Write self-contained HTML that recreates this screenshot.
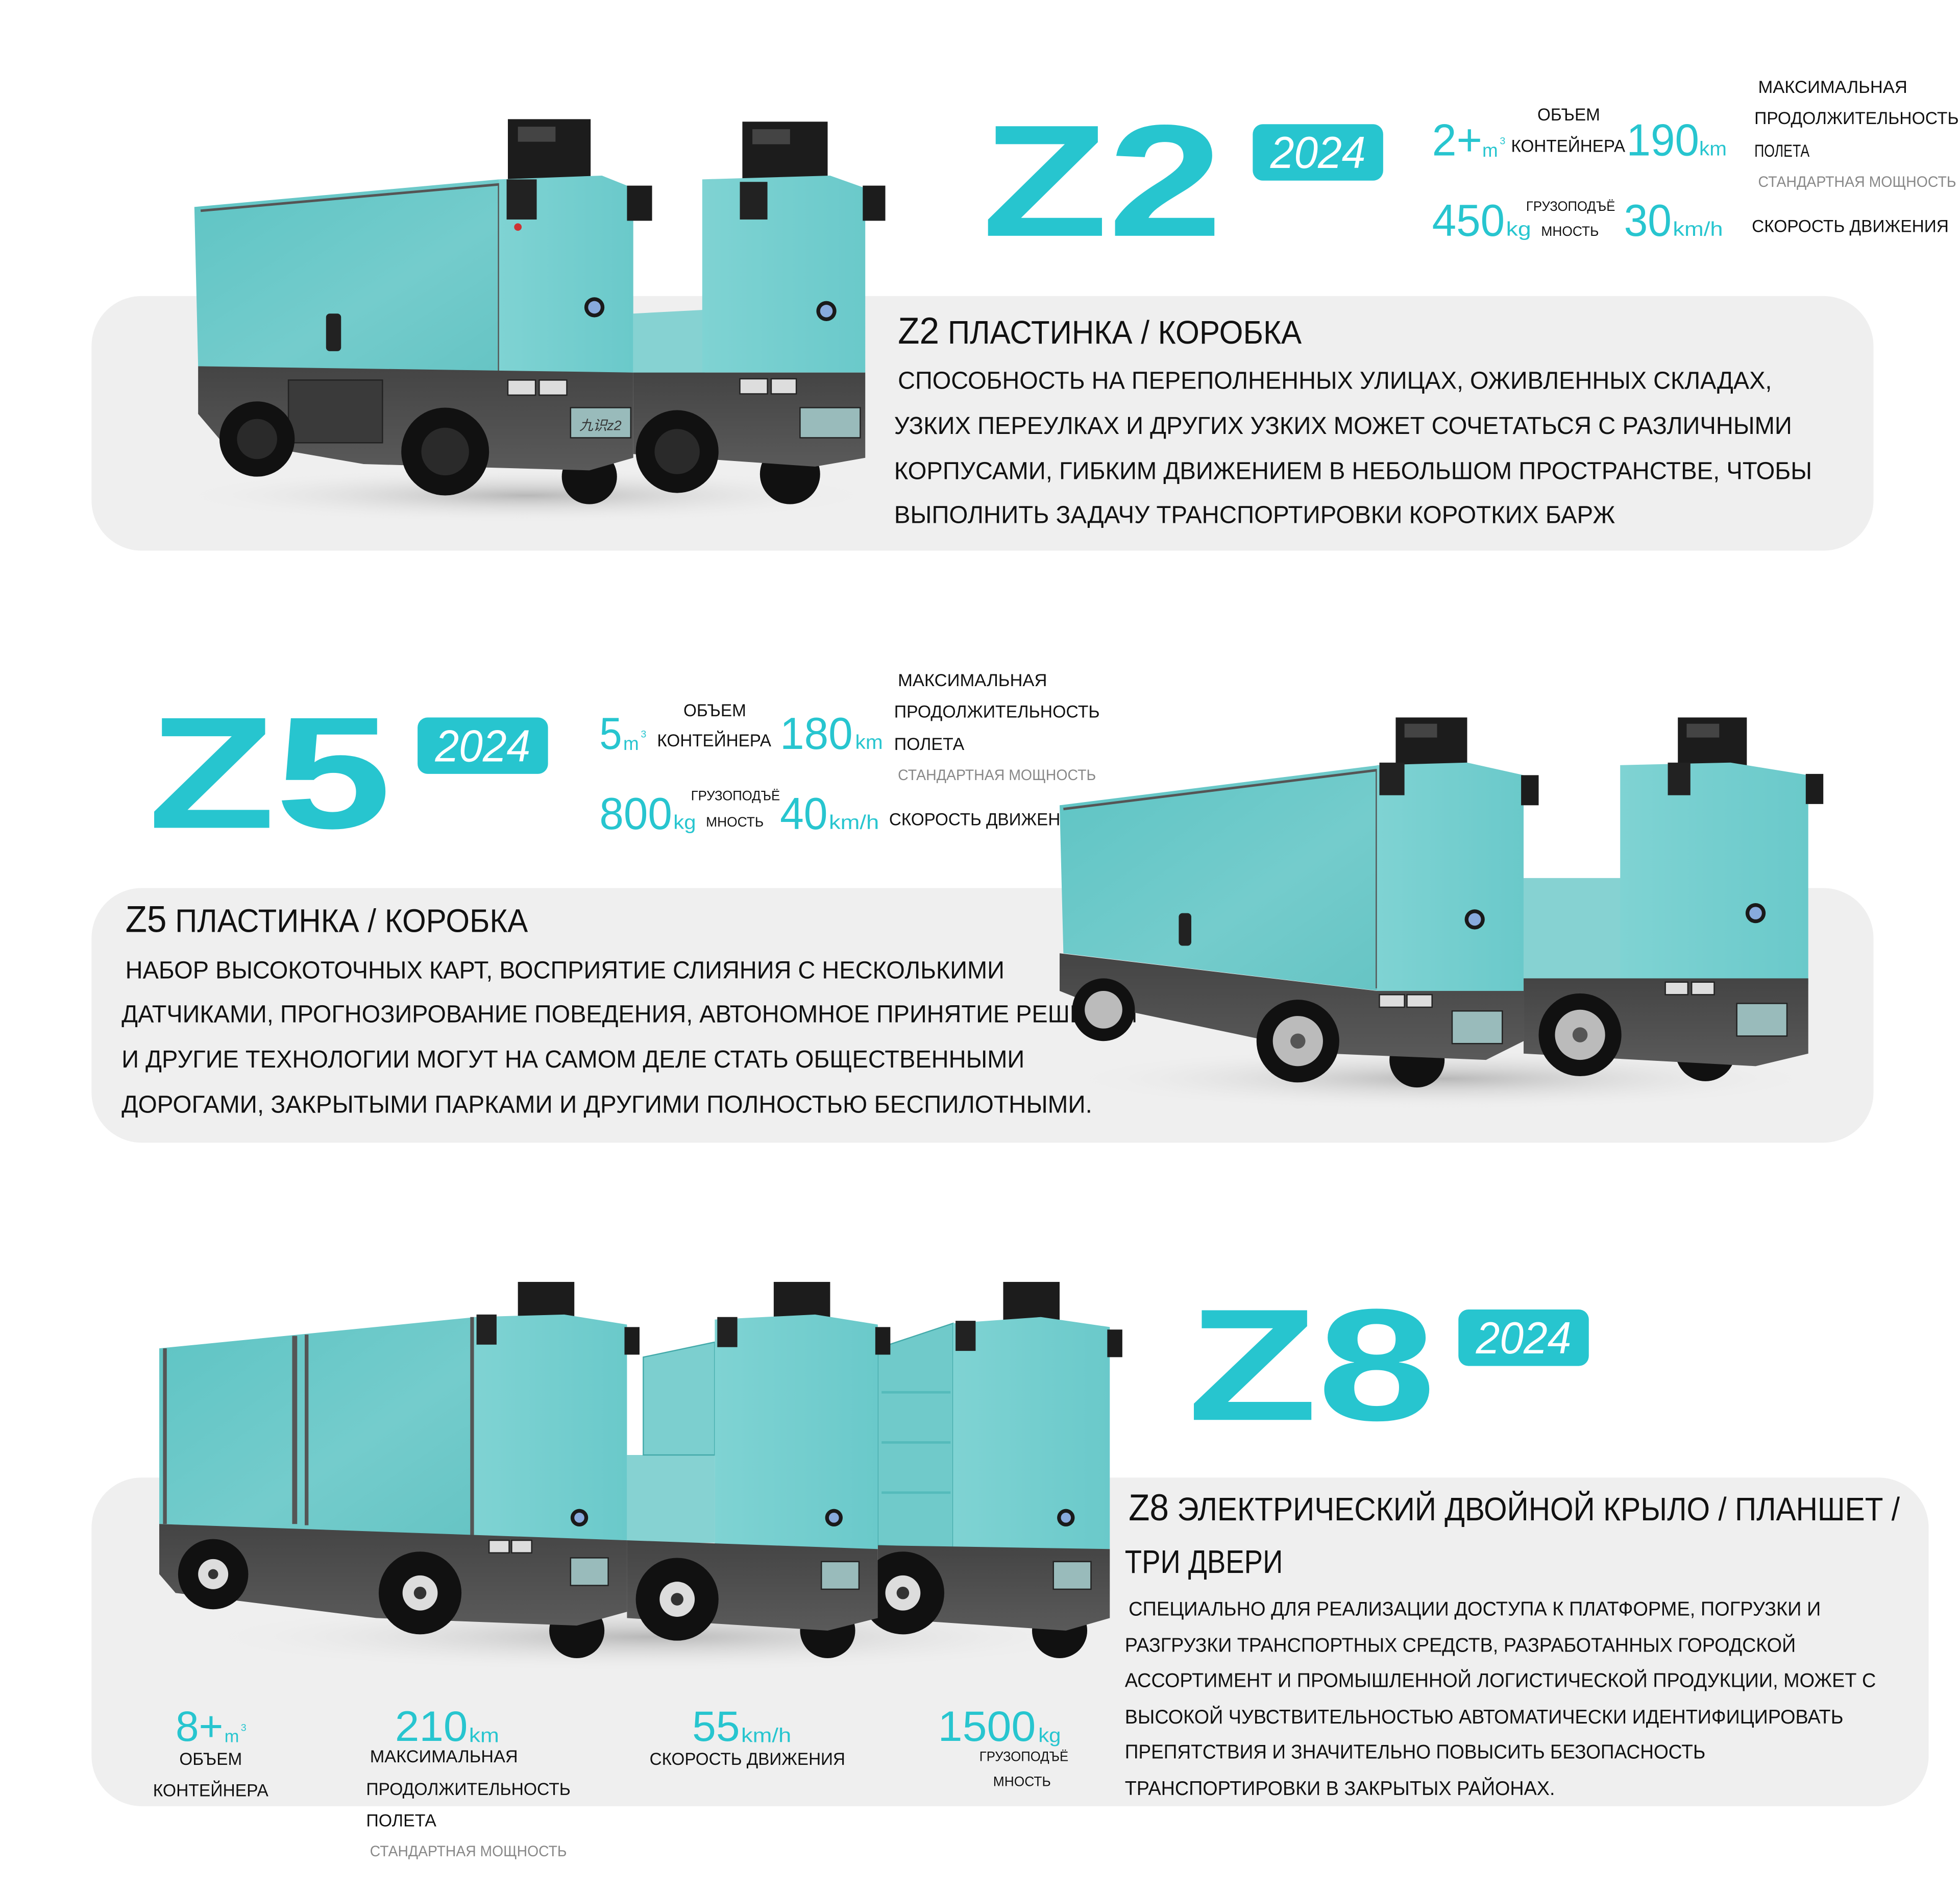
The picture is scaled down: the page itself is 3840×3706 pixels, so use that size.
<!DOCTYPE html>
<html><head><meta charset="utf-8"><style>
html,body{margin:0;padding:0;background:#fff}
svg{display:block}
text{font-family:"Liberation Sans","Noto Sans CJK SC",sans-serif}
.b{fill:#111}
.t{fill:#27c5cf}
.g{fill:#888}
</style></head><body>
<svg width="3840" height="3706" viewBox="0 0 1563 1508.4" preserveAspectRatio="none" xmlns="http://www.w3.org/2000/svg">
<defs>
<linearGradient id="side" x1="0" y1="0" x2="1" y2="1"><stop offset="0" stop-color="#5ec4c4"/><stop offset="0.6" stop-color="#74cccc"/><stop offset="1" stop-color="#66c4c4"/></linearGradient>
<linearGradient id="front" x1="0" y1="0" x2="1" y2="0"><stop offset="0" stop-color="#7fd3d3"/><stop offset="1" stop-color="#6ac9ca"/></linearGradient>
<linearGradient id="chas" x1="0" y1="0" x2="0" y2="1"><stop offset="0" stop-color="#444"/><stop offset="1" stop-color="#5a5a5a"/></linearGradient>
<radialGradient id="sh" cx="0.5" cy="0.5" r="0.5"><stop offset="0" stop-color="#aaa" stop-opacity="0.8"/><stop offset="1" stop-color="#eee" stop-opacity="0"/></radialGradient>
</defs>

<rect x="73" y="236" width="1421" height="203" rx="40" fill="#efefef"/>
<rect x="73" y="708" width="1421" height="203" rx="40" fill="#efefef"/>
<rect x="73" y="1178" width="1465" height="262" rx="40" fill="#efefef"/>

<!-- ===== Z2 header ===== -->
<text x="783" y="188" font-size="127" font-weight="bold" class="t" textLength="192" lengthAdjust="spacingAndGlyphs">Z2</text>
<rect x="999" y="99" width="104" height="45" rx="8" fill="#27c5cf"/>
<text x="1013" y="134" font-size="36" font-style="italic" fill="#fff" textLength="76" lengthAdjust="spacingAndGlyphs">2024</text>

<text x="1142" y="124" font-size="36" class="t" textLength="40" lengthAdjust="spacingAndGlyphs">2+</text>
<text x="1182" y="125" font-size="15" class="t">m</text><text x="1196" y="115" font-size="8" class="t">3</text>
<text x="1226" y="96" font-size="14" class="b" textLength="50" lengthAdjust="spacingAndGlyphs">ОБЪЕМ</text>
<text x="1205" y="121" font-size="14" class="b" textLength="91" lengthAdjust="spacingAndGlyphs">КОНТЕЙНЕРА</text>
<text x="1297" y="124" font-size="36" class="t" textLength="58" lengthAdjust="spacingAndGlyphs">190</text>
<text x="1355" y="124" font-size="16" class="t" textLength="22" lengthAdjust="spacingAndGlyphs">km</text>
<text x="1402" y="74" font-size="14" class="b" textLength="119" lengthAdjust="spacingAndGlyphs">МАКСИМАЛЬНАЯ</text>
<text x="1399" y="99" font-size="14" class="b" textLength="163" lengthAdjust="spacingAndGlyphs">ПРОДОЛЖИТЕЛЬНОСТЬ</text>
<text x="1399" y="125" font-size="14" class="b" textLength="44" lengthAdjust="spacingAndGlyphs">ПОЛЕТА</text>
<text x="1402" y="149" font-size="12" class="g" textLength="158" lengthAdjust="spacingAndGlyphs">СТАНДАРТНАЯ МОЩНОСТЬ</text>
<text x="1142" y="188" font-size="36" class="t" textLength="58" lengthAdjust="spacingAndGlyphs">450</text>
<text x="1201" y="188" font-size="16" class="t" textLength="20" lengthAdjust="spacingAndGlyphs">kg</text>
<text x="1217" y="168" font-size="11" class="b" textLength="71" lengthAdjust="spacingAndGlyphs">ГРУЗОПОДЪЁ</text>
<text x="1229" y="188" font-size="11" class="b" textLength="46" lengthAdjust="spacingAndGlyphs">МНОСТЬ</text>
<text x="1295" y="188" font-size="36" class="t" textLength="38" lengthAdjust="spacingAndGlyphs">30</text>
<text x="1334" y="188" font-size="16" class="t" textLength="40" lengthAdjust="spacingAndGlyphs">km/h</text>
<text x="1397" y="185" font-size="14" class="b" textLength="157" lengthAdjust="spacingAndGlyphs">СКОРОСТЬ ДВИЖЕНИЯ</text>

<text x="716" y="274" font-size="26" class="b" textLength="322" lengthAdjust="spacingAndGlyphs"><tspan font-size="30">Z2</tspan> ПЛАСТИНКА / КОРОБКА</text>
<text x="716" y="310" font-size="19.5" class="b" textLength="697" lengthAdjust="spacingAndGlyphs">СПОСОБНОСТЬ НА ПЕРЕПОЛНЕННЫХ УЛИЦАХ, ОЖИВЛЕННЫХ СКЛАДАХ,</text>
<text x="713" y="346" font-size="19.5" class="b" textLength="716" lengthAdjust="spacingAndGlyphs">УЗКИХ ПЕРЕУЛКАХ И ДРУГИХ УЗКИХ МОЖЕТ СОЧЕТАТЬСЯ С РАЗЛИЧНЫМИ</text>
<text x="713" y="382" font-size="19.5" class="b" textLength="732" lengthAdjust="spacingAndGlyphs">КОРПУСАМИ, ГИБКИМ ДВИЖЕНИЕМ В НЕБОЛЬШОМ ПРОСТРАНСТВЕ, ЧТОБЫ</text>
<text x="713" y="417" font-size="19.5" class="b" textLength="575" lengthAdjust="spacingAndGlyphs">ВЫПОЛНИТЬ ЗАДАЧУ ТРАНСПОРТИРОВКИ КОРОТКИХ БАРЖ</text>

<!-- Z2 trucks -->
<ellipse cx="420" cy="395" rx="280" ry="22" fill="url(#sh)"/>
<circle cx="630" cy="378" r="24" fill="#111"/>
<rect x="592" y="97" width="68" height="48" fill="#1c1c1c"/>
<rect x="600" y="103" width="30" height="12" fill="#444"/>
<polygon points="505,250 562,247 562,300 505,300" fill="#86d2d2"/>
<polygon points="560,143 662,140 690,150 690,297 560,297" fill="url(#front)"/>
<rect x="688" y="148" width="18" height="28" fill="#1c1c1c"/>
<rect x="590" y="145" width="22" height="30" fill="#222"/>
<circle cx="659" cy="248" r="8" fill="#1a1a1a"/><circle cx="659" cy="248" r="5" fill="#8ad"/>
<polygon points="505,297 690,297 690,365 650,372 505,362" fill="url(#chas)"/>
<rect x="590" y="302" width="22" height="12" fill="#ddd" stroke="#222"/>
<rect x="615" y="302" width="20" height="12" fill="#ddd" stroke="#222"/>
<rect x="638" y="325" width="48" height="24" fill="#9bb" stroke="#222"/>
<circle cx="540" cy="360" r="33" fill="#111"/><circle cx="540" cy="360" r="18" fill="#2a2a2a"/>
<circle cx="470" cy="380" r="22" fill="#111"/>
<rect x="405" y="95" width="66" height="52" fill="#1c1c1c"/>
<rect x="413" y="101" width="30" height="12" fill="#444"/>
<polygon points="155,165 398,143 398,297 158,292" fill="url(#side)"/>
<polyline points="160,168 398,147 398,296" fill="none" stroke="#555" stroke-width="2"/>
<polygon points="398,143 480,140 505,150 505,297 398,297" fill="url(#front)"/>
<rect x="500" y="148" width="20" height="28" fill="#1c1c1c"/>
<rect x="404" y="143" width="24" height="32" fill="#222"/>
<circle cx="413" cy="181" r="3" fill="#c33"/>
<circle cx="474" cy="245" r="8" fill="#1a1a1a"/><circle cx="474" cy="245" r="5" fill="#8ad"/>
<rect x="260" y="250" width="12" height="30" rx="3" fill="#222"/>
<polygon points="158,292 505,297 505,365 470,375 290,370 175,350 158,330" fill="url(#chas)"/>
<rect x="230" y="303" width="75" height="50" fill="#3a3a3a" stroke="#222"/>
<rect x="405" y="303" width="22" height="12" fill="#ddd" stroke="#222"/>
<rect x="430" y="303" width="22" height="12" fill="#ddd" stroke="#222"/>
<rect x="455" y="325" width="48" height="24" fill="#9bb" stroke="#222"/>
<text x="462" y="343" font-size="11" fill="#333" font-style="italic">九识z2</text>
<circle cx="205" cy="350" r="30" fill="#111"/><circle cx="205" cy="350" r="16" fill="#2a2a2a"/>
<circle cx="355" cy="360" r="35" fill="#111"/><circle cx="355" cy="360" r="19" fill="#2a2a2a"/>

<!-- ===== Z5 header ===== -->
<text x="118" y="660" font-size="127" font-weight="bold" class="t" textLength="194" lengthAdjust="spacingAndGlyphs">Z5</text>
<rect x="333" y="572" width="104" height="45" rx="8" fill="#27c5cf"/>
<text x="347" y="607" font-size="36" font-style="italic" fill="#fff" textLength="76" lengthAdjust="spacingAndGlyphs">2024</text>

<text x="478" y="597" font-size="36" class="t" textLength="18" lengthAdjust="spacingAndGlyphs">5</text>
<text x="497" y="598" font-size="15" class="t">m</text><text x="511" y="588" font-size="8" class="t">3</text>
<text x="545" y="571" font-size="14" class="b" textLength="50" lengthAdjust="spacingAndGlyphs">ОБЪЕМ</text>
<text x="524" y="595" font-size="14" class="b" textLength="91" lengthAdjust="spacingAndGlyphs">КОНТЕЙНЕРА</text>
<text x="622" y="597" font-size="36" class="t" textLength="58" lengthAdjust="spacingAndGlyphs">180</text>
<text x="682" y="597" font-size="16" class="t" textLength="22" lengthAdjust="spacingAndGlyphs">km</text>
<text x="716" y="547" font-size="14" class="b" textLength="119" lengthAdjust="spacingAndGlyphs">МАКСИМАЛЬНАЯ</text>
<text x="713" y="572" font-size="14" class="b" textLength="164" lengthAdjust="spacingAndGlyphs">ПРОДОЛЖИТЕЛЬНОСТЬ</text>
<text x="713" y="598" font-size="14" class="b" textLength="56" lengthAdjust="spacingAndGlyphs">ПОЛЕТА</text>
<text x="716" y="622" font-size="12" class="g" textLength="158" lengthAdjust="spacingAndGlyphs">СТАНДАРТНАЯ МОЩНОСТЬ</text>
<text x="478" y="661" font-size="36" class="t" textLength="58" lengthAdjust="spacingAndGlyphs">800</text>
<text x="537" y="661" font-size="16" class="t" textLength="18" lengthAdjust="spacingAndGlyphs">kg</text>
<text x="551" y="638" font-size="11" class="b" textLength="71" lengthAdjust="spacingAndGlyphs">ГРУЗОПОДЪЁ</text>
<text x="563" y="659" font-size="11" class="b" textLength="46" lengthAdjust="spacingAndGlyphs">МНОСТЬ</text>
<text x="622" y="661" font-size="36" class="t" textLength="38" lengthAdjust="spacingAndGlyphs">40</text>
<text x="661" y="661" font-size="16" class="t" textLength="40" lengthAdjust="spacingAndGlyphs">km/h</text>
<text x="709" y="658" font-size="14" class="b" textLength="156" lengthAdjust="spacingAndGlyphs">СКОРОСТЬ ДВИЖЕНИЯ</text>

<text x="100" y="743" font-size="26" class="b" textLength="321" lengthAdjust="spacingAndGlyphs"><tspan font-size="30">Z5</tspan> ПЛАСТИНКА / КОРОБКА</text>
<text x="100" y="780" font-size="19.5" class="b" textLength="701" lengthAdjust="spacingAndGlyphs">НАБОР ВЫСОКОТОЧНЫХ КАРТ, ВОСПРИЯТИЕ СЛИЯНИЯ С НЕСКОЛЬКИМИ</text>
<text x="97" y="815" font-size="19.5" class="b" textLength="810" lengthAdjust="spacingAndGlyphs">ДАТЧИКАМИ, ПРОГНОЗИРОВАНИЕ ПОВЕДЕНИЯ, АВТОНОМНОЕ ПРИНЯТИЕ РЕШЕНИЙ</text>
<text x="97" y="851" font-size="19.5" class="b" textLength="720" lengthAdjust="spacingAndGlyphs">И ДРУГИЕ ТЕХНОЛОГИИ МОГУТ НА САМОМ ДЕЛЕ СТАТЬ ОБЩЕСТВЕННЫМИ</text>
<text x="97" y="887" font-size="19.5" class="b" textLength="774" lengthAdjust="spacingAndGlyphs">ДОРОГАМИ, ЗАКРЫТЫМИ ПАРКАМИ И ДРУГИМИ ПОЛНОСТЬЮ БЕСПИЛОТНЫМИ.</text>

<!-- Z5 trucks -->
<ellipse cx="1150" cy="860" rx="300" ry="25" fill="url(#sh)"/>
<circle cx="1360" cy="838" r="24" fill="#111"/>
<rect x="1338" y="572" width="55" height="40" fill="#1c1c1c"/>
<rect x="1345" y="577" width="26" height="11" fill="#444"/>
<polygon points="1215,700 1295,700 1295,785 1215,785" fill="#86d2d2"/>
<polygon points="1292,610 1380,608 1442,618 1442,785 1292,785" fill="url(#front)"/>
<rect x="1440" y="617" width="14" height="24" fill="#1c1c1c"/>
<rect x="1330" y="608" width="18" height="26" fill="#222"/>
<circle cx="1400" cy="728" r="8" fill="#1a1a1a"/><circle cx="1400" cy="728" r="5" fill="#8ad"/>
<polygon points="1215,780 1442,780 1442,840 1400,850 1215,840" fill="url(#chas)"/>
<rect x="1328" y="783" width="18" height="10" fill="#ddd" stroke="#222"/>
<rect x="1349" y="783" width="18" height="10" fill="#ddd" stroke="#222"/>
<rect x="1385" y="800" width="40" height="26" fill="#9bb" stroke="#222"/>
<circle cx="1260" cy="825" r="33" fill="#111"/><circle cx="1260" cy="825" r="20" fill="#bbb"/><circle cx="1260" cy="825" r="6" fill="#555"/>
<circle cx="1130" cy="845" r="22" fill="#111"/>
<rect x="1113" y="572" width="57" height="42" fill="#1c1c1c"/>
<rect x="1120" y="577" width="26" height="11" fill="#444"/>
<polygon points="845,642 1100,610 1100,790 848,760" fill="url(#side)"/>
<polyline points="848,645 1098,614 1098,788" fill="none" stroke="#555" stroke-width="2"/>
<polygon points="1098,610 1170,608 1215,618 1215,790 1098,790" fill="url(#front)"/>
<rect x="1213" y="618" width="14" height="24" fill="#1c1c1c"/>
<rect x="1100" y="608" width="20" height="26" fill="#222"/>
<circle cx="1176" cy="733" r="8" fill="#1a1a1a"/><circle cx="1176" cy="733" r="5" fill="#8ad"/>
<rect x="940" y="728" width="10" height="26" rx="3" fill="#222"/>
<polygon points="845,760 1098,790 1215,790 1215,830 1185,845 1060,840 870,800 845,790" fill="url(#chas)"/>
<rect x="1100" y="793" width="20" height="10" fill="#ddd" stroke="#222"/>
<rect x="1122" y="793" width="20" height="10" fill="#ddd" stroke="#222"/>
<rect x="1158" y="806" width="40" height="26" fill="#9bb" stroke="#222"/>
<circle cx="880" cy="805" r="25" fill="#111"/><circle cx="880" cy="805" r="15" fill="#bbb"/>
<circle cx="1035" cy="830" r="33" fill="#111"/><circle cx="1035" cy="830" r="20" fill="#bbb"/><circle cx="1035" cy="830" r="6" fill="#555"/>

<!-- ===== Z8 header ===== -->
<text x="947" y="1132" font-size="127" font-weight="bold" class="t" textLength="198" lengthAdjust="spacingAndGlyphs">Z8</text>
<rect x="1163" y="1044" width="104" height="45" rx="8" fill="#27c5cf"/>
<text x="1177" y="1079" font-size="36" font-style="italic" fill="#fff" textLength="76" lengthAdjust="spacingAndGlyphs">2024</text>

<!-- Z8 trucks -->
<ellipse cx="520" cy="1305" rx="360" ry="28" fill="url(#sh)"/>
<circle cx="845" cy="1300" r="22" fill="#111"/>
<rect x="800" y="1022" width="45" height="40" fill="#1c1c1c"/>
<polygon points="700,1075 760,1055 760,1235 700,1232" fill="#70caca" stroke="#4aa" stroke-width="1"/>
<line x1="703" y1="1110" x2="758" y2="1110" stroke="#5bb" stroke-width="2"/>
<line x1="703" y1="1150" x2="758" y2="1150" stroke="#5bb" stroke-width="2"/>
<line x1="703" y1="1190" x2="758" y2="1190" stroke="#5bb" stroke-width="2"/>
<polygon points="760,1055 830,1050 885,1058 885,1235 760,1235" fill="url(#front)"/>
<rect x="883" y="1060" width="12" height="22" fill="#1c1c1c"/>
<rect x="762" y="1053" width="16" height="24" fill="#222"/>
<circle cx="850" cy="1210" r="7" fill="#1a1a1a"/><circle cx="850" cy="1210" r="4" fill="#8ad"/>
<polygon points="700,1232 885,1235 885,1290 850,1300 700,1290" fill="url(#chas)"/>
<rect x="840" y="1245" width="30" height="22" fill="#9bb" stroke="#222"/>
<circle cx="720" cy="1270" r="33" fill="#111"/><circle cx="720" cy="1270" r="14" fill="#ddd"/><circle cx="720" cy="1270" r="5" fill="#333"/>
<circle cx="660" cy="1300" r="22" fill="#111"/>
<rect x="617" y="1022" width="45" height="40" fill="#1c1c1c"/>
<polygon points="500,1160 570,1160 570,1230 500,1230" fill="#86d2d2"/>
<polygon points="513,1082 570,1070 570,1160 513,1160" fill="#7ccfcf" stroke="#4aa" stroke-width="1"/>
<polygon points="570,1052 650,1048 700,1056 700,1235 570,1235" fill="url(#front)"/>
<rect x="698" y="1058" width="12" height="22" fill="#1c1c1c"/>
<rect x="572" y="1050" width="16" height="24" fill="#222"/>
<circle cx="665" cy="1210" r="7" fill="#1a1a1a"/><circle cx="665" cy="1210" r="4" fill="#8ad"/>
<polygon points="500,1228 700,1235 700,1290 660,1300 500,1290" fill="url(#chas)"/>
<rect x="655" y="1245" width="30" height="22" fill="#9bb" stroke="#222"/>
<circle cx="540" cy="1275" r="33" fill="#111"/><circle cx="540" cy="1275" r="14" fill="#ddd"/><circle cx="540" cy="1275" r="5" fill="#333"/>
<circle cx="460" cy="1300" r="22" fill="#111"/>
<rect x="413" y="1022" width="45" height="40" fill="#1c1c1c"/>
<polygon points="127,1075 380,1050 380,1225 127,1215" fill="url(#side)"/>
<rect x="130" y="1075" width="3" height="140" fill="#555"/>
<rect x="233" y="1065" width="4" height="150" fill="#555"/>
<rect x="243" y="1064" width="3" height="152" fill="#555"/>
<rect x="375" y="1050" width="3" height="175" fill="#555"/>
<polygon points="378,1050 450,1048 500,1056 500,1228 378,1225" fill="url(#front)"/>
<rect x="498" y="1058" width="12" height="22" fill="#1c1c1c"/>
<rect x="380" y="1048" width="16" height="24" fill="#222"/>
<circle cx="462" cy="1210" r="7" fill="#1a1a1a"/><circle cx="462" cy="1210" r="4" fill="#8ad"/>
<polygon points="127,1215 500,1228 500,1285 460,1296 300,1290 140,1270 127,1255" fill="url(#chas)"/>
<rect x="390" y="1228" width="16" height="10" fill="#ddd" stroke="#222"/>
<rect x="408" y="1228" width="16" height="10" fill="#ddd" stroke="#222"/>
<rect x="455" y="1242" width="30" height="22" fill="#9bb" stroke="#222"/>
<circle cx="170" cy="1255" r="28" fill="#111"/><circle cx="170" cy="1255" r="12" fill="#ddd"/><circle cx="170" cy="1255" r="4" fill="#333"/>
<circle cx="335" cy="1270" r="33" fill="#111"/><circle cx="335" cy="1270" r="14" fill="#ddd"/><circle cx="335" cy="1270" r="5" fill="#333"/>

<!-- Z8 panel text -->
<text x="900" y="1212" font-size="26" class="b" textLength="615" lengthAdjust="spacingAndGlyphs"><tspan font-size="30">Z8</tspan> ЭЛЕКТРИЧЕСКИЙ ДВОЙНОЙ КРЫЛО / ПЛАНШЕТ /</text>
<text x="897" y="1254" font-size="26" class="b" textLength="126" lengthAdjust="spacingAndGlyphs">ТРИ ДВЕРИ</text>
<text x="900" y="1288" font-size="16" class="b" textLength="552" lengthAdjust="spacingAndGlyphs">СПЕЦИАЛЬНО ДЛЯ РЕАЛИЗАЦИИ ДОСТУПА К ПЛАТФОРМЕ, ПОГРУЗКИ И</text>
<text x="897" y="1317" font-size="16" class="b" textLength="535" lengthAdjust="spacingAndGlyphs">РАЗГРУЗКИ ТРАНСПОРТНЫХ СРЕДСТВ, РАЗРАБОТАННЫХ ГОРОДСКОЙ</text>
<text x="897" y="1345" font-size="16" class="b" textLength="599" lengthAdjust="spacingAndGlyphs">АССОРТИМЕНТ И ПРОМЫШЛЕННОЙ ЛОГИСТИЧЕСКОЙ ПРОДУКЦИИ, МОЖЕТ С</text>
<text x="897" y="1374" font-size="16" class="b" textLength="573" lengthAdjust="spacingAndGlyphs">ВЫСОКОЙ ЧУВСТВИТЕЛЬНОСТЬЮ АВТОМАТИЧЕСКИ ИДЕНТИФИЦИРОВАТЬ</text>
<text x="897" y="1402" font-size="16" class="b" textLength="463" lengthAdjust="spacingAndGlyphs">ПРЕПЯТСТВИЯ И ЗНАЧИТЕЛЬНО ПОВЫСИТЬ БЕЗОПАСНОСТЬ</text>
<text x="897" y="1431" font-size="16" class="b" textLength="343" lengthAdjust="spacingAndGlyphs">ТРАНСПОРТИРОВКИ В ЗАКРЫТЫХ РАЙОНАХ.</text>

<!-- Z8 stats -->
<text x="140" y="1388" font-size="34" class="t" textLength="38" lengthAdjust="spacingAndGlyphs">8+</text>
<text x="179" y="1389" font-size="14" class="t">m</text><text x="192" y="1380" font-size="8" class="t">3</text>
<text x="143" y="1407" font-size="14" class="b" textLength="50" lengthAdjust="spacingAndGlyphs">ОБЪЕМ</text>
<text x="122" y="1432" font-size="14" class="b" textLength="92" lengthAdjust="spacingAndGlyphs">КОНТЕЙНЕРА</text>
<text x="315" y="1388" font-size="34" class="t" textLength="58" lengthAdjust="spacingAndGlyphs">210</text>
<text x="374" y="1389" font-size="16" class="t" textLength="24" lengthAdjust="spacingAndGlyphs">km</text>
<text x="295" y="1405" font-size="14" class="b" textLength="118" lengthAdjust="spacingAndGlyphs">МАКСИМАЛЬНАЯ</text>
<text x="292" y="1431" font-size="14" class="b" textLength="163" lengthAdjust="spacingAndGlyphs">ПРОДОЛЖИТЕЛЬНОСТЬ</text>
<text x="292" y="1456" font-size="14" class="b" textLength="56" lengthAdjust="spacingAndGlyphs">ПОЛЕТА</text>
<text x="295" y="1480" font-size="12" class="g" textLength="157" lengthAdjust="spacingAndGlyphs">СТАНДАРТНАЯ МОЩНОСТЬ</text>
<text x="552" y="1388" font-size="34" class="t" textLength="38" lengthAdjust="spacingAndGlyphs">55</text>
<text x="591" y="1389" font-size="16" class="t" textLength="40" lengthAdjust="spacingAndGlyphs">km/h</text>
<text x="518" y="1407" font-size="14" class="b" textLength="156" lengthAdjust="spacingAndGlyphs">СКОРОСТЬ ДВИЖЕНИЯ</text>
<text x="748" y="1388" font-size="34" class="t" textLength="78" lengthAdjust="spacingAndGlyphs">1500</text>
<text x="828" y="1389" font-size="16" class="t" textLength="18" lengthAdjust="spacingAndGlyphs">kg</text>
<text x="781" y="1404" font-size="11" class="b" textLength="71" lengthAdjust="spacingAndGlyphs">ГРУЗОПОДЪЁ</text>
<text x="792" y="1424" font-size="11" class="b" textLength="46" lengthAdjust="spacingAndGlyphs">МНОСТЬ</text>
</svg>
</body></html>
